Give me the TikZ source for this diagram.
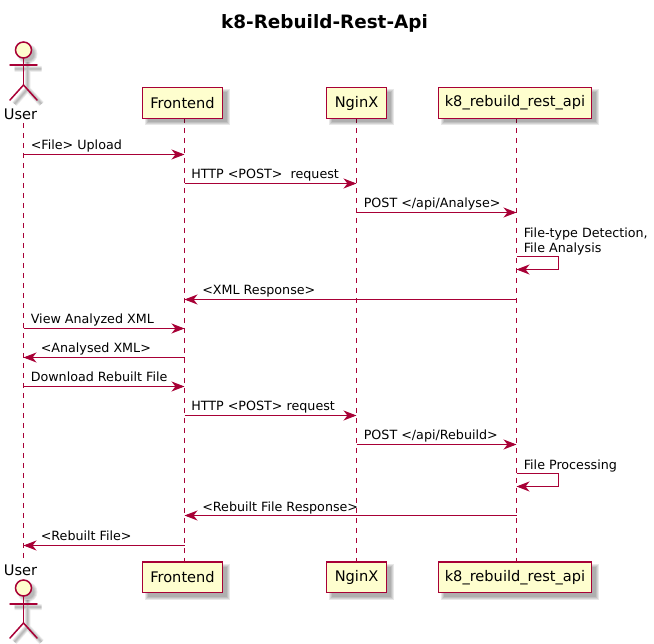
\documentclass[tikz,border=0pt]{standalone}
\usepackage{fontspec}
\setmainfont{DejaVu Sans}
\usetikzlibrary{arrows.meta}
\definecolor{pline}{HTML}{A80036}
\definecolor{pfill}{HTML}{FEFECE}
\tikzset{
  x=1pt,y=-1pt,
  pbox/.style={draw=pline,fill=pfill,line width=1.5pt,minimum height=31pt,inner sep=0pt,font=\fontsize{14.6}{17}\selectfont,text=black},
  life/.style={draw=pline,line width=0.8pt,dash pattern=on 5pt off 5pt},
  msg/.style={draw=pline,line width=1pt,-{Stealth[length=13pt,width=10pt,inset=4pt,fill=pline]}},
  lbl/.style={anchor=base west,inner sep=0pt,yshift=-0.8pt,xshift=-0.4pt,font=\fontsize{12.7}{15}\selectfont,text=black,align=left},
  act/.style={draw=pline,line width=1.5pt,line cap=round},
  actshadow/.style={draw=black,draw opacity=0.05,line width=#1},
  actlbl/.style={inner sep=0pt,font=\fontsize{14.6}{17}\selectfont,text=black,anchor=base}
}
\newcommand{\shadowbox}[4]{%
  \foreach \g in {0,1,2,3}{\fill[black,fill opacity=0.09] (#1+2+\g,#3+2+\g) rectangle (#2+7-\g,#4+7-\g);}%
}
\newcommand{\actorfig}[2]{%
  \foreach \w in {1,2,3,4,5,6}{%
  \draw[actshadow=\w pt] (#1+4,#2+12) -- (#1+4,#2+39) (#1-9,#2+19) -- (#1+18,#2+19) (#1-9,#2+54) -- (#1+4,#2+39) -- (#1+18,#2+54);}%
  \foreach \w in {1,2,3,4}{\fill[black,fill opacity=0.08] (#1+4,#2+4) circle (6+\w);}%
}
\begin{document}
\begin{tikzpicture}
\useasboundingbox (0,0) rectangle (654,644);
\node[font=\bfseries\fontsize{18.4}{21}\selectfont,text=black,inner sep=0pt] (title) at (324.5,23) {k8-Rebuild-Rest-Api};

% row coordinates
\foreach \n/\y in {a/154.5,b/183.5,c/212.5,d1/256.5,d2/269.5,e/299.5,f/328.5,g/357.5,h/386.5,i/415.5,j/444.5,k1/473.5,k2/486.5,l/515.5,m/545.5}
  \coordinate (r\n) at (0,\y);

% lifeline ends
\coordinate (uT) at (23.5,123); \coordinate (uB) at (23.5,558);
\coordinate (fT) at (184.5,118); \coordinate (fB) at (184.5,562);
\coordinate (nT) at (356.5,118); \coordinate (nB) at (356.5,562);
\coordinate (kT) at (516.5,118); \coordinate (kB) at (516.5,562);
\draw[life] (uT) -- (uB);
\draw[life] (fT) -- (fB);
\draw[life] (nT) -- (nB);
\draw[life] (kT) -- (kB);

% shadows
\shadowbox{142.5}{222.5}{87.5}{118.5}
\shadowbox{326.5}{386.5}{87.5}{118.5}
\shadowbox{438.5}{591.5}{87.5}{118.5}
\shadowbox{142.5}{222.5}{562}{592.5}
\shadowbox{326.5}{386.5}{562}{592.5}
\shadowbox{438.5}{591.5}{562}{592.5}
\actorfig{23.5}{50}
\actorfig{23.5}{588}

% participants
\node[pbox,minimum width=80pt] (front) at (182.5,103) {Frontend};
\node[pbox,minimum width=60pt] (nginx) at (356.5,103) {NginX};
\node[pbox,minimum width=153pt] (api) at (515,103) {k8\_rebuild\_rest\_api};
\node[pbox,minimum width=80pt,minimum height=30.5pt] (front2) at (182.5,577.2) {Frontend};
\node[pbox,minimum width=60pt,minimum height=30.5pt] (nginx2) at (356.5,577.2) {NginX};
\node[pbox,minimum width=153pt,minimum height=30.5pt] (api2) at (515,577.2) {k8\_rebuild\_rest\_api};

% actors
\node[draw=pline,fill=pfill,line width=1.5pt,circle,minimum size=16pt,inner sep=0pt] (userHead) at (23.5,50) {};
\draw[act] (userHead.south) -- (23.5,85) coordinate (userHip);
\draw[act] (10,65) -- (37,65);
\draw[act] (10,100) -- (userHip) -- (37,100);
\node[actlbl] (userLbl) at (20.5,120) {User};
\node[draw=pline,fill=pfill,line width=1.5pt,circle,minimum size=16pt,inner sep=0pt] (userHead2) at (23.5,588) {};
\draw[act] (userHead2.south) -- (23.5,623) coordinate (userHip2);
\draw[act] (10,604) -- (37,604);
\draw[act] (10,638) -- (userHip2) -- (37,638);
\node[actlbl] (userLbl2) at (20.5,575) {User};

% messages
\draw[msg] (uT |- ra) -- (fT |- ra);
\node[lbl] (t1) at (31,149) {<File> Upload};
\draw[msg] (fT |- rb) -- (nT |- rb);
\node[lbl] (t2) at (191.5,178) {HTTP <POST>\hspace{4pt} request};
\draw[msg] (nT |- rc) -- (kT |- rc);
\node[lbl] (t3) at (364,207) {POST </api/Analyse>};
\draw[msg] (kT |- rd1) -- (558.5,256.5) coordinate (c1) -- (558.5,269.5) coordinate (c2) -- (kT |- rd2);
\node[lbl] (t4) at (524,252) {File-type Detection,\\File Analysis};
\draw[msg] (kT |- re) -- (fT |- re);
\node[lbl] (t5) at (202.5,294) {<XML Response>};
\draw[msg] (uT |- rf) -- (fT |- rf);
\node[lbl] (t6) at (31,323) {View Analyzed XML};
\draw[msg] (fT |- rg) -- (uT |- rg);
\node[lbl] (t7) at (41,352) {<Analysed XML>};
\draw[msg] (uT |- rh) -- (fT |- rh);
\node[lbl] (t8) at (31,381) {Download Rebuilt File};
\draw[msg] (fT |- ri) -- (nT |- ri);
\node[lbl] (t9) at (191.5,410) {HTTP <POST> request};
\draw[msg] (nT |- rj) -- (kT |- rj);
\node[lbl] (t10) at (364,439) {POST </api/Rebuild>};
\draw[msg] (kT |- rk1) -- (558.5,473.5) coordinate (c3) -- (558.5,486.5) coordinate (c4) -- (kT |- rk2);
\node[lbl] (t11) at (524,469) {File Processing};
\draw[msg] (kT |- rl) -- (fT |- rl);
\node[lbl] (t12) at (202.5,510.5) {<Rebuilt File Response>};
\draw[msg] (fT |- rm) -- (uT |- rm);
\node[lbl] (t13) at (41,540) {<Rebuilt File>};
\end{tikzpicture}
\end{document}
